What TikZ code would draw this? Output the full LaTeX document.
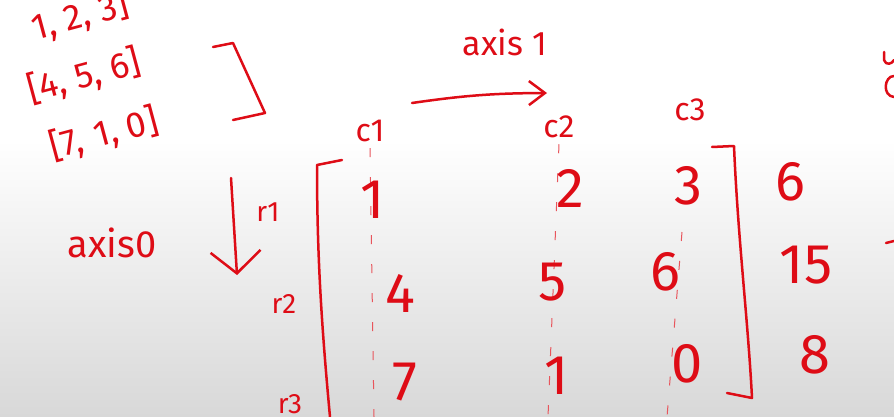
\documentclass[tikz,border=0pt]{standalone}
\usepackage{fontspec}
\setmainfont{Fira Sans}
\usetikzlibrary{arrows.meta}

\begin{document}
\begin{tikzpicture}[x=1pt,y=-1pt,
        ink/.style={text=inkred,inner sep=0pt},
        entry/.style={ink,font=\fontsize{56}{56}\selectfont},
        colname/.style={ink,font=\fontsize{32}{32}\selectfont},
        rowname/.style={ink,font=\fontsize{28}{28}\selectfont},
        oldrow/.style={ink,font=\fontsize{36}{36}\selectfont,rotate=15},
        pen/.style={draw=inkred,line width=2.5pt,line cap=round,line join=round},
        guide/.style={draw=inkred!70,line width=1pt,dash pattern=on 9pt off 20pt}]
        \definecolor{inkred}{RGB}{222,12,22}
        \definecolor{boardgray}{RGB}{216,216,216}

        \useasboundingbox (0,0) rectangle (894,417);
        \clip (0,0) rectangle (894,417);

        % board
        \fill[white] (0,0) rectangle (894,140);
        \shade[top color=white,bottom color=boardgray]
            (0,140) rectangle (894,417);

        % nested list
        \node[oldrow] (row1) at (80,16) {1, 2, 3]};
        \node[oldrow] (row2) at (84,76) {[4, 5, 6]};
        \node[oldrow] (row3) at (104,134) {[7,\,\,1, 0]};
        \draw[pen] (213,47) -- (233,43) -- (265,113) -- (233,120);

        % column names
        \node[colname] (c1) at (370,131) {c1};
        \node[colname] (c2) at (559,127) {c2};
        \node[colname] (c3) at (690,110) {c3};

        \coordinate (c1end) at (374,417);
        \coordinate (c2end) at (548,417);
        \coordinate (c3top) at (682,232);
        \coordinate (c3end) at (667,417);

        \draw[guide] (c1.south) ++(0,6) -- (c1end);
        \draw[guide] (c2.south) ++(0,6) -- (c2end);
        \draw[guide] (c3top) -- (c3end);

        % axis 1
        \node[ink,font=\fontsize{34}{34}\selectfont] (ax1) at (505,42) {axis 1};
        \coordinate (ax1from) at (412,103);
        \coordinate (ax1to) at (547,93);
        \draw[pen,-{Straight Barb[length=16pt,width=24pt]}]
            (ax1from) to[bend left=4] (ax1to);

        % axis 0
        \node[ink,font=\fontsize{38}{38}\selectfont] (ax0) at (112,243) {axis0};
        \coordinate (ax0from) at (231,178);
        \coordinate (ax0to) at (237,275);
        \draw[pen,-{Straight Barb[length=22pt,width=50pt]}]
            (ax0from) -- (ax0to);

        % row names
        \node[rowname] (r1) at (268,212) {r1};
        \node[rowname] (r2) at (284,304) {r2};
        \node[rowname] (r3) at (290,404) {r3};

        % brackets
        \draw[pen] (342,160) -- (317,165) .. controls (317,260) and (322,330) .. (330,417);
        \draw[pen] (712,147) -- (734,146) .. controls (738,240) and (748,320) .. (752,398) -- (727,393);

        % entries
        \node[entry] (m11) at (373,200) {1};
        \node[entry] (m12) at (570,188) {2};
        \node[entry] (m13) at (688,186) {3};
        \node[entry] (m21) at (400,293) {4};
        \node[entry] (m22) at (553,282) {5};
        \node[entry] (m23) at (665,272) {6};
        \node[entry] (m31) at (405,382) {7};
        \node[entry] (m32) at (557,376) {1};
        \node[entry] (m33) at (687,364) {0};

        % row sums
        \node[entry] (s1) at (790,182) {6};
        \node[entry] (s2) at (806,265) {15};
        \node[entry] (s3) at (815,355) {8};

        % cut-off marks at the edge
        \draw[pen] (884,52) -- (884,60) .. controls (886,66) and (892,64) .. (894,60);
        \draw[pen] (894,76) .. controls (884,76) and (882,96) .. (894,97);
        \draw[pen] (886,243) -- (894,241);
    \end{tikzpicture}
\end{document}
